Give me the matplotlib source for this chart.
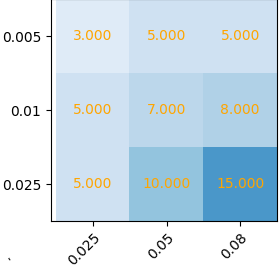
import matplotlib
matplotlib.use("Agg")
import matplotlib.pyplot as plt
import numpy as np

row_labels = ["0.005", "0.01", "0.025"]
col_labels = ["0.025", "0.05", "0.08"]
values = np.array([
    [3.0, 5.0, 5.0],
    [5.0, 7.0, 8.0],
    [5.0, 10.0, 15.0],
])

W, H = 279, 268
fig = plt.figure(figsize=(W / 100, H / 100), dpi=100)
ax = fig.add_axes([51 / W, 47 / H, 226 / W, 222 / H])
ax.imshow(values, cmap="Blues", vmin=0, vmax=25, aspect="auto")
ax.set_xlim(-0.57, 2.5)
ax.set_ylim(2.5, -0.5)

ax.set_xticks(range(len(col_labels)))
ax.set_xticklabels(col_labels, rotation=45, ha="right", rotation_mode="anchor", fontsize=10)
ax.set_yticks(range(len(row_labels)))
ax.set_yticklabels(row_labels, fontsize=10)

for i in range(values.shape[0]):
    for j in range(values.shape[1]):
        ax.text(j, i, f"{values[i, j]:.3f}", ha="center", va="center",
                color="orange", fontsize=10)

fig.text(3 / W, 1 - 257 / H, ",", fontsize=8, ha="left", va="center", rotation=45)

fig.savefig("out.png", dpi=100)
